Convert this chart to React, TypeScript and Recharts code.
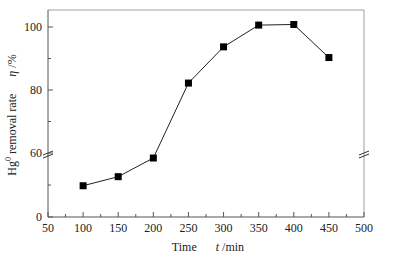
import { LineChart, Line, XAxis, YAxis, ReferenceLine, ReferenceDot } from 'recharts';

// reaction time (min) vs Hg0 removal rate (%)
const times = [100, 150, 200, 250, 300, 350, 400, 450];
const removalRate = [29.3, 37.8, 55.3, 82.2, 93.7, 100.6, 100.8, 90.3];

const xTicks = [50, 75, 100, 125, 150, 175, 200, 225, 250, 275, 300, 325, 350, 375, 400, 425, 450, 475, 500];
const yTickValues = [0, 30, 60, 70, 80, 90, 100];
const yTickLabels = ['0', '', '60', '', '80', '', '100'];

// broken y axis: 0-60 squeezed into the lower part, 60-105 stretched above it
const BREAK = 60;
const LOW_SPAN = 64;
const HIGH_UNIT = 3.15;
const Y_TOP = 207;
const toAxis = (v: number) => (v <= BREAK ? (v * LOW_SPAN) / BREAK : LOW_SPAN + (v - BREAK) * HIGH_UNIT);

const data = times.map((t, i) => ({ time: t, rate: toAxis(removalRate[i]) }));
const yTicks = yTickValues.map(toAxis);

const FONT = 'Liberation Serif, Times New Roman, serif';
const AXIS = '#555';
const FRAME = '#a0a0a0';
const TEXT = '#222';

const XTick = (props: any) => {
  const { x, y, payload } = props;
  const major = payload.value % 50 === 0;
  return (
    <g>
      <line x1={x} x2={x} y1={y} y2={y - (major ? 5 : 3)} stroke={AXIS} />
      {major && (
        <text x={x} y={y + 15} textAnchor="middle" fontFamily={FONT} fontSize={12} fill={TEXT}>
          {payload.value}
        </text>
      )}
    </g>
  );
};

const YTick = (props: any) => {
  const { x, y, payload } = props;
  const label = yTickLabels[yTicks.indexOf(payload.value)] ?? '';
  const major = label !== '';
  return (
    <g>
      <line x1={x} x2={x + (major ? 5 : 3)} y1={y} y2={y} stroke={AXIS} />
      {major && (
        <text x={x - 6} y={y + 4} textAnchor="end" fontFamily={FONT} fontSize={12} fill={TEXT}>
          {label}
        </text>
      )}
    </g>
  );
};

const SquareDot = (props: any) => {
  const { cx, cy, index } = props;
  if (cx == null || cy == null) return null;
  return <rect key={`dot-${index}`} x={cx - 3.5} y={cy - 3.5} width={7} height={7} fill="#000" />;
};

const BreakMark = (props: any) => {
  const { cx, cy } = props;
  return (
    <g>
      <line x1={cx - 5} y1={cy + 2} x2={cx + 5} y2={cy - 2} stroke="#333" />
      <line x1={cx - 5} y1={cy + 5} x2={cx + 5} y2={cy + 1} stroke="#333" />
    </g>
  );
};

const XTitle = () => (
  <text x={208} y={251} textAnchor="middle" fontFamily={FONT} fontSize={12} fill={TEXT}>
    <tspan>Time</tspan>
    <tspan dx={19} fontStyle="italic">t</tspan>
    <tspan dx={3}>/min</tspan>
  </text>
);

const YTitle = () => (
  <text
    x={0}
    y={0}
    transform="translate(16,115) rotate(-90)"
    textAnchor="middle"
    fontFamily={FONT}
    fontSize={12}
    fill={TEXT}
  >
    <tspan>Hg</tspan>
    <tspan fontSize={8} dy={-5}>0</tspan>
    <tspan dy={5}> removal rate</tspan>
    <tspan dx={17} fontStyle="italic">η</tspan>
    <tspan dx={3}>/%</tspan>
  </text>
);

export default function App() {
  return (
    <div style={{ position: 'absolute', left: 0, top: 0, width: 395, height: 258, background: '#fff' }}>
      <LineChart width={395} height={258} data={data} margin={{ top: 10, right: 31, bottom: 0, left: 0 }}>
        <XAxis
          dataKey="time"
          type="number"
          domain={[50, 500]}
          ticks={xTicks}
          interval={0}
          height={41}
          tickSize={0}
          tickMargin={0}
          tickLine={false}
          axisLine={{ stroke: AXIS }}
          tick={XTick}
          label={{ content: XTitle }}
        />
        <YAxis
          type="number"
          domain={[0, Y_TOP]}
          ticks={yTicks}
          interval={0}
          width={48}
          allowDataOverflow
          tickSize={0}
          tickMargin={0}
          tickLine={false}
          axisLine={{ stroke: AXIS }}
          tick={YTick}
          label={{ content: YTitle }}
        />
        <ReferenceLine y={Y_TOP} stroke={FRAME} />
        <ReferenceLine x={500} stroke={FRAME} />
        <ReferenceDot x={50} y={toAxis(BREAK)} r={0} shape={BreakMark} ifOverflow="visible" />
        <ReferenceDot x={500} y={toAxis(BREAK)} r={0} shape={BreakMark} ifOverflow="visible" />
        <Line
          dataKey="rate"
          stroke="#222"
          strokeWidth={1}
          dot={SquareDot}
          activeDot={false}
          isAnimationActive={false}
        />
      </LineChart>
    </div>
  );
}
